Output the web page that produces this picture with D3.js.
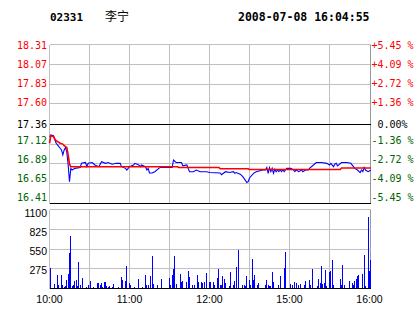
<!DOCTYPE html>
<html><head><meta charset="utf-8">
<script src="https://cdn.jsdelivr.net/npm/d3@7"></script>
<style>html,body{margin:0;padding:0;background:#fff;overflow:hidden}svg{display:block}</style>
</head><body><svg id="c" width="414" height="314"></svg>
<script>
// ---------- data ----------
const stockCode = "02331";
const stockName = "李宁";
const stamp = "2008-07-08 16:04:55";
const prevClose = 17.36;

// minutes from 10:00 on the trading clock (lunch break removed; 150 = 12:30/14:30)
const priceMin = [0,1,3,4,5,6,8,9,10,11,12,13,14,15,16,17,19,23,24,27,28,29,32,34,37,39,42,44,47,50,53,54,57,58,59,60,63,64,67,68,69,72,73,74,75,77,79,82,83,92,93,95,99,100,103,104,105,108,110,113,118,120,128,129,132,135,138,139,140,143,145,148,149,150,153,155,160,162,163,164,165,166,167,168,169,170,171,172,173,174,175,176,177,178,181,183,184,185,187,189,190,192,194,195,198,200,204,208,210,211,213,214,215,216,219,223,226,229,231,233,234,235,236,237,239,241];
const priceVal = [17.21,17.23,17.22,17.17,17.13,17.11,17.07,17.05,16.99,17.05,17.08,17.02,16.87,16.67,16.83,16.81,16.83,16.84,16.89,16.90,16.85,16.89,16.90,16.87,16.85,16.91,16.89,16.90,16.88,16.89,16.89,16.85,16.83,16.81,16.83,16.85,16.87,16.89,16.87,16.85,16.87,16.85,16.81,16.83,16.775,16.775,16.79,16.83,16.84,16.84,16.93,16.90,16.90,16.86,16.87,16.83,16.79,16.79,16.81,16.79,16.79,16.78,16.775,16.755,16.79,16.78,16.79,16.77,16.78,16.76,16.73,16.66,16.67,16.715,16.77,16.79,16.81,16.81,16.84,16.77,16.84,16.79,16.83,16.77,16.82,16.79,16.81,16.79,16.81,16.79,16.81,16.79,16.81,16.83,16.83,16.81,16.79,16.81,16.79,16.81,16.79,16.81,16.81,16.83,16.87,16.90,16.90,16.89,16.87,16.89,16.85,16.88,16.89,16.86,16.90,16.90,16.89,16.83,16.81,16.78,16.81,16.79,16.84,16.81,16.79,16.81];

const avgMin = [0,1,3,4,5,8,10,11,13,14,15,16,96,97,127,128,149,150,218,219,241];
const avgVal = [17.13,17.22,17.21,17.18,17.16,17.13,17.12,17.10,17.08,16.99,16.88,16.85,16.85,16.841,16.841,16.826,16.826,16.817,16.817,16.834,16.834];

const volMin = [0,4,6,7,9,10,11,12,13,14,15,16,17,18,19,20,21,22,23,25,28,29,31,33,36,37,38,39,40,41,42,43,44,45,47,48,52,54,55,57,58,60,61,64,67,70,72,73,74,76,77,78,81,84,90,91,92,93,94,95,98,99,100,103,104,105,107,109,111,112,114,115,116,118,120,121,123,124,126,127,128,129,130,131,132,135,136,138,139,140,142,145,146,147,148,150,151,152,153,154,156,157,162,163,164,165,166,167,168,172,173,176,177,181,182,184,185,187,188,191,192,195,196,197,201,202,203,204,205,206,207,208,210,211,212,213,218,219,220,221,225,227,228,229,230,231,232,235,236,237,239,240,241];
const volVal = [285,60,185,55,185,50,25,35,116,200,500,730,40,55,100,116,40,366,55,144,25,55,100,25,74,74,55,70,25,88,88,40,25,40,25,60,25,158,120,100,311,74,45,25,130,25,186,45,45,172,455,60,45,130,148,45,186,278,455,60,195,93,102,84,241,158,45,45,186,84,97,80,84,213,88,88,97,53,144,269,45,45,172,130,74,30,227,45,102,297,533,45,53,30,172,116,45,408,116,186,45,74,45,116,53,30,30,227,84,53,172,288,506,60,45,88,74,45,60,45,102,116,45,269,30,130,74,311,60,74,255,30,227,241,394,45,130,45,325,45,102,74,45,102,130,172,186,200,464,30,993,241,394];

const leftTicks = ["18.31","18.07","17.83","17.60","17.36","17.12","16.89","16.65","16.41"];
const rightTicks = ["+5.45 %","+4.09 %","+2.72 %","+1.36 %","0.00%","-1.36 %","-2.72 %","-4.09 %","-5.45 %"];
const volTicks = [1100, 825, 550, 275];
const timeLabels = ["10:00","11:00","12:00","15:00","16:00"];
const timeMins = [0, 60, 120, 180, 240];
const gridMins = [0,30,60,90,120,150,180,210];

// ---------- drawing ----------
const svg = d3.select("#c");
const x = d3.scaleLinear([0, 240], [49.5, 369.5]);
const y = d3.scaleLinear([+leftTicks[8], +leftTicks[0]], [203.5, 44.5]);
const yv = d3.scaleLinear([0, 1100], [288.5, 209.5]);
const snap = v => Math.round(v - 0.5) + 0.5;
const rightEdge = 370.5;
const GRID = "#c0c0c0", RED = "#ff0000", GREEN = "#006400";
const mono = "'DejaVu Sans Mono', monospace";
const sans = "'Liberation Sans', Arial, sans-serif";

const g = svg.append("g").attr("shape-rendering", "crispEdges");

// price panel grid
leftTicks.forEach((t, i) => {
  const yy = snap(y(+t));
  g.append("line").attr("x1", 49.5).attr("x2", rightEdge).attr("y1", yy).attr("y2", yy)
    .attr("stroke", (i === 4 || i === 8) ? "#000" : GRID);
});
gridMins.forEach(m => {
  g.append("line").attr("x1", snap(x(m))).attr("x2", snap(x(m))).attr("y1", 44.5).attr("y2", 203.5).attr("stroke", GRID);
  g.append("line").attr("x1", snap(x(m))).attr("x2", snap(x(m))).attr("y1", 209.5).attr("y2", 288.5).attr("stroke", GRID);
});
g.append("line").attr("x1", rightEdge).attr("x2", rightEdge).attr("y1", 44.5).attr("y2", 203.5).attr("stroke", "#999");
g.append("line").attr("x1", rightEdge).attr("x2", rightEdge).attr("y1", 209.5).attr("y2", 288.5).attr("stroke", "#999");
// redraw the black rules on top of vertical grid
[prevClose, +leftTicks[8]].forEach(v => {
  const yy = snap(y(v));
  g.append("line").attr("x1", 49.5).attr("x2", rightEdge).attr("y1", yy).attr("y2", yy).attr("stroke", "#000");
});

// volume grid
volTicks.forEach(v => {
  const yy = snap(yv(v));
  g.append("line").attr("x1", 49.5).attr("x2", rightEdge).attr("y1", yy).attr("y2", yy).attr("stroke", GRID);
});

// volume bars
g.selectAll("rect.vol").data(volMin).join("rect").attr("class", "vol")
  .attr("x", d => Math.floor(x(d)) + 0.5 > 49.5 ? Math.floor(x(d)) : 50)
  .attr("width", 1)
  .attr("y", (d, i) => yv(volVal[i]))
  .attr("height", (d, i) => yv(0) - yv(volVal[i]))
  .attr("fill", "#0000ff");
g.append("line").attr("x1", 49.5).attr("x2", rightEdge).attr("y1", snap(yv(0))).attr("y2", snap(yv(0))).attr("stroke", "#000");

// price line & average line
const line = d3.line().x(d => x(d[0])).y(d => y(d[1]));
svg.append("path").datum(priceMin.map((m, i) => [m, priceVal[i]]))
  .attr("d", line).attr("fill", "none").attr("stroke", "#0000ff").attr("stroke-width", 1.1);
svg.append("path").datum(avgMin.map((m, i) => [m, avgVal[i]]))
  .attr("d", line).attr("fill", "none").attr("stroke", RED).attr("stroke-width", 1.6);

// price labels
const labelCenter = i => i === 4 ? y(prevClose) + 0.5 : 45.5 + 19 * i;
leftTicks.forEach((t, i) => {
  const col = i < 4 ? RED : (i === 4 ? "#000" : GREEN);
  svg.append("text").attr("x", 47).attr("y", labelCenter(i) + 3.7)
    .attr("text-anchor", "end").attr("font-family", mono).attr("font-size", 10)
    .attr("fill", col).text(t);
  svg.append("text").attr("x", i === 4 ? 377.5 : 371.5).attr("y", labelCenter(i) + 3.7)
    .attr("font-family", mono).attr("font-size", 10)
    .attr("fill", col).text(rightTicks[i]);
});

// volume labels
volTicks.forEach((v, i) => {
  svg.append("text").attr("x", 47).attr("y", 213 + 19 * i + 3.7)
    .attr("text-anchor", "end").attr("font-family", sans).attr("font-size", 10.5)
    .attr("fill", "#000").text(v);
});

// time labels
timeLabels.forEach((t, i) => {
  svg.append("text").attr("x", x(timeMins[i])).attr("y", 303)
    .attr("text-anchor", "middle").attr("font-family", sans).attr("font-size", 10.5)
    .attr("fill", "#000").text(t);
});

// header
svg.append("text").attr("x", 50).attr("y", 20.5).attr("font-family", mono).attr("font-weight", "bold")
  .attr("font-size", 11).text(stockCode);
svg.append("text").attr("x", 105).attr("y", 20.5).attr("font-family", "'Noto Sans CJK SC', sans-serif")
  .attr("font-size", 12).text(stockName);
svg.append("text").attr("x", 238).attr("y", 20.5).attr("font-family", mono).attr("font-weight", "bold")
  .attr("font-size", 11.5).text(stamp);
</script>
</body></html>
